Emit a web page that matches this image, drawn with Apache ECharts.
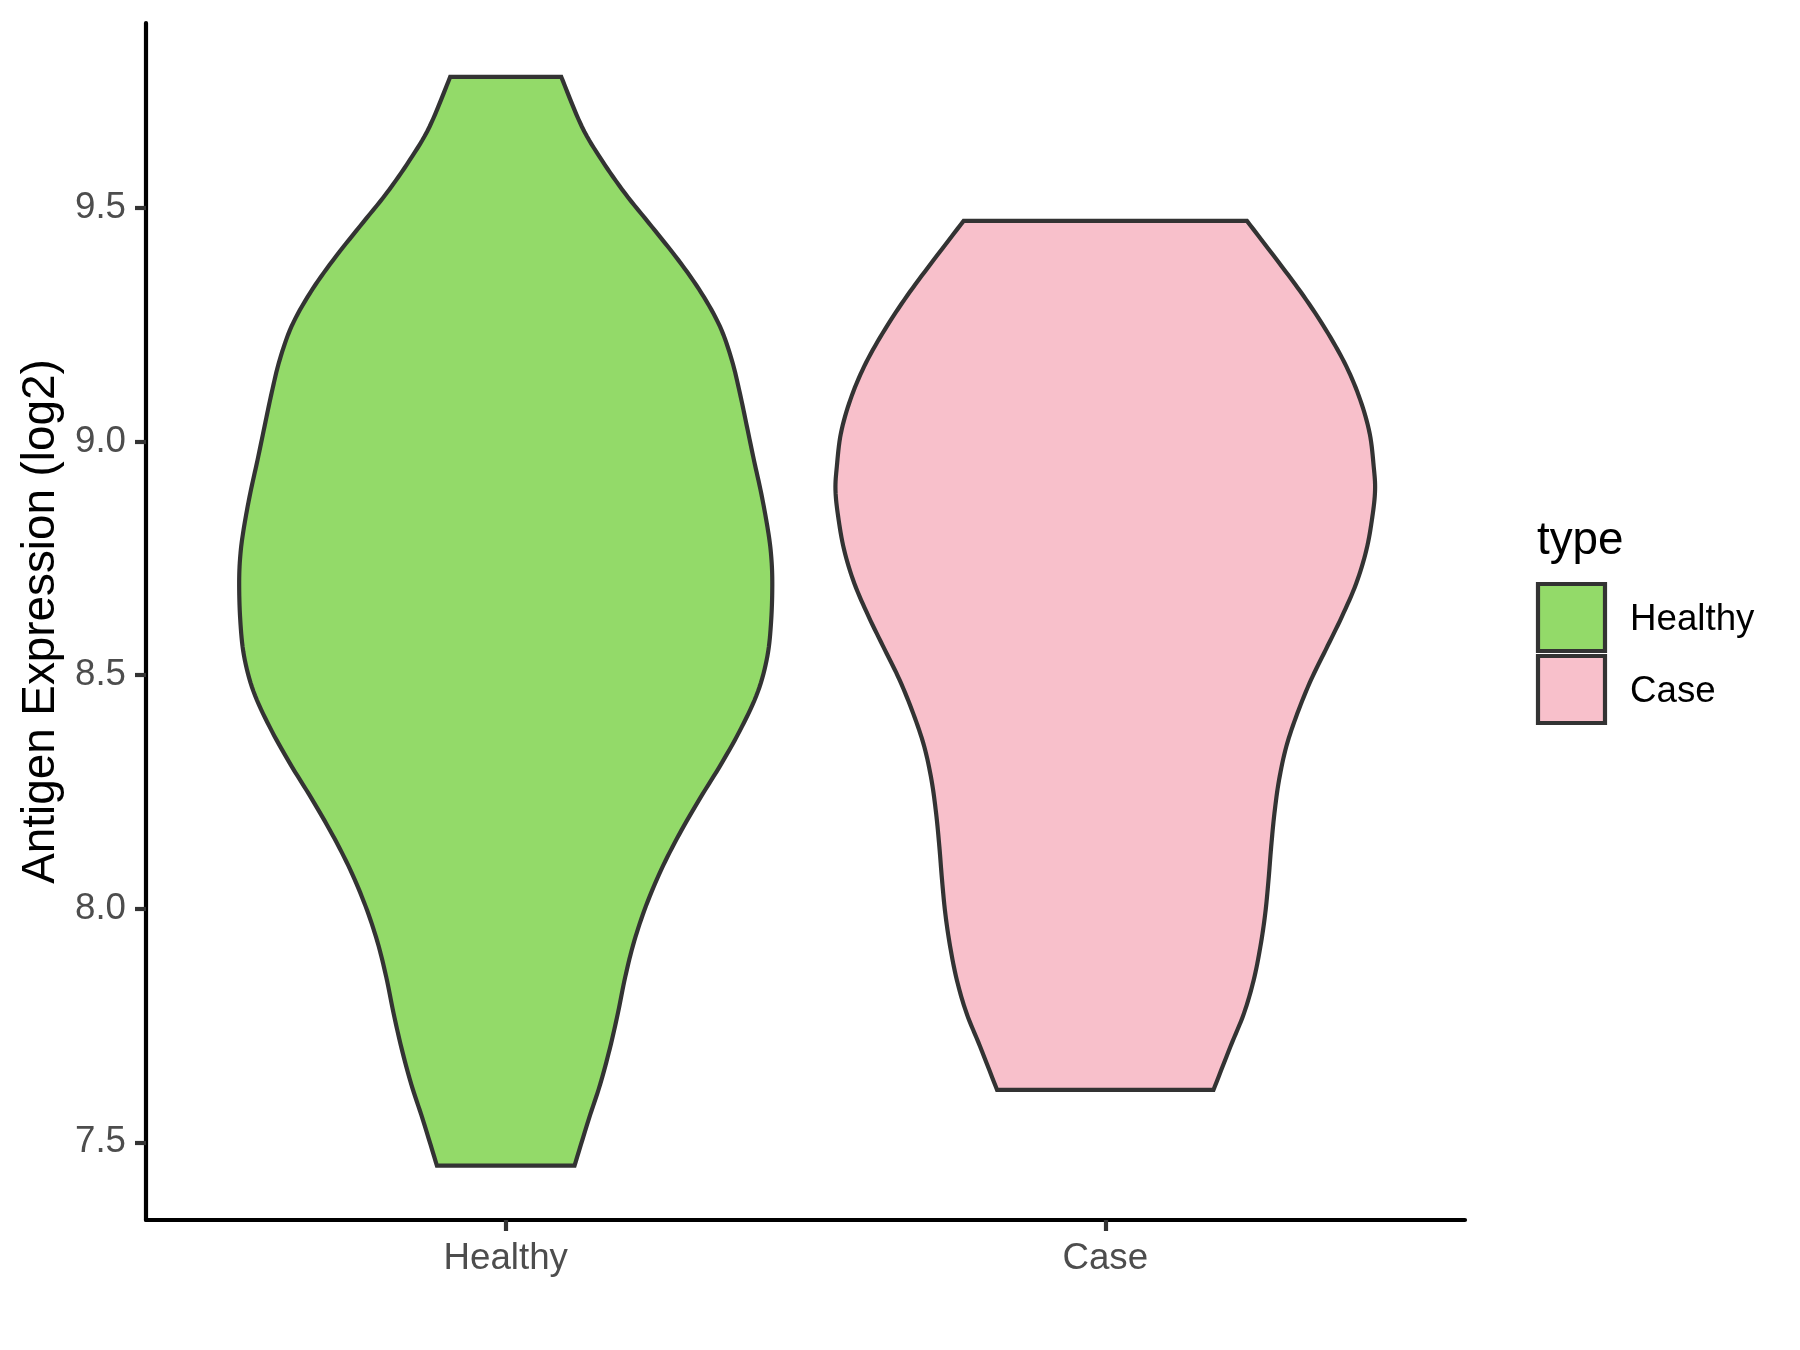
<!DOCTYPE html>
<html><head><meta charset="utf-8">
<script src="https://cdn.jsdelivr.net/npm/echarts@6/dist/echarts.min.js"></script>
<style>html,body{margin:0;padding:0;background:#fff}#c{width:1800px;height:1350px}</style>
</head><body><div id="c"></div>
<script>
// ---- data ----
const categories = ['Healthy', 'Case'];
// violin outline: value (log2) from top to bottom, and relative density width (1 = widest)
const healthyValues = [9.78, 9.674, 9.602, 9.531, 9.46, 9.388, 9.317, 9.246, 9.174, 9.103, 9.032, 8.96, 8.889, 8.817, 8.761, 8.70, 8.618, 8.541, 8.465, 8.389, 8.312, 8.236, 8.159, 8.083, 8.006, 7.930, 7.854, 7.777, 7.701, 7.624, 7.548, 7.45];
const healthyDensity = [0.206, 0.282, 0.356, 0.442, 0.541, 0.640, 0.726, 0.794, 0.838, 0.868, 0.894, 0.920, 0.947, 0.970, 0.983, 0.988, 0.984, 0.970, 0.935, 0.875, 0.801, 0.720, 0.643, 0.576, 0.520, 0.476, 0.443, 0.416, 0.386, 0.350, 0.307, 0.255];
const caseValues = [9.472, 9.374, 9.303, 9.231, 9.160, 9.089, 9.017, 8.946, 8.896, 8.839, 8.768, 8.696, 8.625, 8.554, 8.489, 8.418, 8.347, 8.275, 8.204, 8.133, 8.061, 7.990, 7.919, 7.847, 7.776, 7.705, 7.612];
const caseDensity = [0.525, 0.655, 0.745, 0.826, 0.894, 0.945, 0.980, 0.995, 1.000, 0.990, 0.968, 0.930, 0.877, 0.817, 0.762, 0.712, 0.671, 0.644, 0.627, 0.615, 0.605, 0.593, 0.575, 0.550, 0.514, 0.464, 0.401];
const yTickValues = [7.5, 8.0, 8.5, 9.0, 9.5];
const yMin = 7.3337, yMax = 9.8955;
const yAxisTitle = 'Antigen Expression (log2)';
const legendTitle = 'type';

// ---- styling ----
const FONT = '"Liberation Sans", Arial, Helvetica, sans-serif';
const fills = ['#93DA69', '#F8C0CB'];
const outline = '#333333';
const LW = 4.2;
const HALF = 0.45; // max half width in category units
const groups = [
  { values: healthyValues, density: healthyDensity },
  { values: caseValues, density: caseDensity }
];

function catmull(pts, steps) {
  const out = [];
  const n = pts.length;
  for (let i = 0; i < n - 1; i++) {
    const p0 = pts[Math.max(i - 1, 0)], p1 = pts[i], p2 = pts[i + 1], p3 = pts[Math.min(i + 2, n - 1)];
    for (let s = 0; s < steps; s++) {
      const t = s / steps, t2 = t * t, t3 = t2 * t;
      const f = (a, b, c, d) => 0.5 * ((2 * b) + (-a + c) * t + (2 * a - 5 * b + 4 * c - d) * t2 + (-a + 3 * b - 3 * c + d) * t3);
      out.push([f(p0[0], p1[0], p2[0], p3[0]), f(p0[1], p1[1], p2[1], p3[1])]);
    }
  }
  out.push(pts[n - 1]);
  return out;
}

function renderViolin(params, api) {
  const gi = params.seriesIndex;
  const g = groups[gi];
  const cx = gi + 1;
  const right = g.values.map((v, i) => api.coord([cx + g.density[i] * HALF, v]));
  const left = g.values.map((v, i) => api.coord([cx - g.density[i] * HALF, v])).reverse();
  const pts = catmull(right, 8).concat(catmull(left, 8));
  return {
    type: 'polygon',
    shape: { points: pts },
    style: { fill: fills[gi], stroke: outline, lineWidth: LW, lineJoin: 'miter' }
  };
}

const chart = echarts.init(document.getElementById('c'), null, { renderer: 'canvas' });

const legendGraphics = [
  { type: 'text', left: 1537, top: 518, style: { text: legendTitle, fontSize: 45.8, fontFamily: FONT, fill: '#000' } }
];
categories.forEach((c, i) => {
  legendGraphics.push({ type: 'rect', shape: { x: 1538, y: 584 + i * 72, width: 67, height: 67 },
    style: { fill: fills[i], stroke: outline, lineWidth: LW } });
  legendGraphics.push({ type: 'text', x: 1630, y: 620 + i * 72,
    style: { text: c, fontSize: 36.7, fontFamily: FONT, fill: '#000', verticalAlign: 'middle', align: 'left' } });
});

chart.setOption({
  animation: false,
  backgroundColor: '#ffffff',
  grid: { left: 146, right: 335, top: 23, bottom: 130 },
  xAxis: {
    type: 'value', min: 0.4, max: 2.6,
    axisLine: { show: true, onZero: false, lineStyle: { color: '#000', width: LW } },
    axisTick: { show: true, customValues: [1, 2], length: 11, lineStyle: { color: '#333333', width: LW } },
    axisLabel: { show: true, customValues: [1, 2], formatter: v => categories[Math.round(v) - 1],
      color: '#4D4D4D', fontSize: 36.7, fontFamily: FONT, margin: 20 },
    splitLine: { show: false }
  },
  yAxis: {
    type: 'value', min: yMin, max: yMax,
    name: yAxisTitle, nameLocation: 'middle', nameGap: 82,
    nameTextStyle: { color: '#000', fontSize: 45.8, fontFamily: FONT },
    axisLine: { show: true, onZero: false, lineStyle: { color: '#000', width: LW } },
    axisTick: { show: true, customValues: yTickValues, length: 11, lineStyle: { color: '#333333', width: LW } },
    axisLabel: { show: true, customValues: yTickValues, formatter: v => v.toFixed(1),
      color: '#4D4D4D', fontSize: 36.7, fontFamily: FONT, margin: 20 },
    splitLine: { show: false }
  },
  series: categories.map((c, i) => ({
    type: 'custom', name: c, renderItem: renderViolin, data: [[i + 1]],
    encode: { x: 0 }, clip: false
  })),
  graphic: legendGraphics
});
</script>
</body></html>
